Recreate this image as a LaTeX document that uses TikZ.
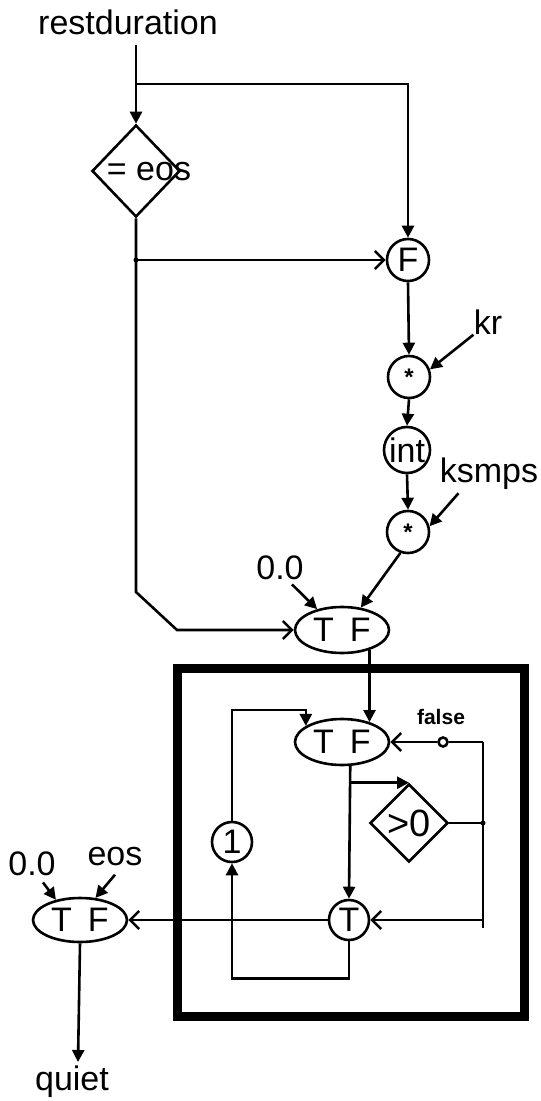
\documentclass[tikz,border=0pt]{standalone}
\usepackage{fontspec}
\setmainfont{Liberation Sans}
\usetikzlibrary{arrows.meta,calc,positioning,shapes.geometric}

\tikzset{
  wire/.style={line width=1.3pt},
  fin/.style={wire,-{Triangle[length=6pt,width=6pt]}},
  sin/.style={wire,-{Straight Barb[length=4.5pt,width=9pt]}},
  lbl/.style={font=\fontsize{17}{20}\selectfont,inner sep=0pt},
  op/.style={draw,circle,line width=1.3pt,inner sep=0pt,minimum size=21pt,font=\fontsize{17}{20}\selectfont},
  sel/.style={draw,ellipse,line width=1.3pt,inner sep=0pt,minimum width=47pt,minimum height=23pt,font=\fontsize{17}{20}\selectfont},
  test/.style={draw,diamond,line width=1.3pt,inner sep=0pt,font=\fontsize{19}{21}\selectfont},
}
\newcommand{\opstar}{\raisebox{-0.45em}{\bfseries\fontsize{12}{12}\selectfont *}}

\begin{document}
\begin{tikzpicture}[x=0.5pt,y=-0.5pt]
\useasboundingbox (0,0) rectangle (540,1101);
% top part
\node[lbl] (rd) at (128,22) {restduration};
\coordinate (rdout) at (136,45);
\coordinate (split) at (136,84);
\node[test,minimum width=44pt,minimum height=46pt] (eq) at (136,171) {};
\node[lbl] (eqtxt) at (149,172) {= eos};
\node[op] (fsel) at (408,260) {F};
\coordinate (j1) at (eq.south |- fsel);
\node[op] (mul1) at (409,377) {\opstar};
\node[lbl] (kr) at (488,322) {kr};
\node[op,minimum size=23pt] (int) at (407,450) {int};
\node[op] (mul2) at (408,532) {\opstar};
\node[lbl] (ksmps) at (489,474) {ksmps};
\node[sel] (tf1) at (342,630) {T\hspace{8pt}F};
\node[lbl] (zero1) at (280,568) {0.0};

\draw[fin] (rdout) -- (eq.north);
\draw[fin] (split) -| (fsel.north);
\draw[sin] (j1) -- (fsel.west);
\fill (j1) circle (2.5);
\draw[sin] (eq.south) -- (136,592) -- (177,630) -- (tf1.west);
\draw[fin] (fsel.south) -- (mul1.north);
\draw[fin] (kr.south west) -- (mul1.20);
\draw[fin] (mul1.south) -- (int.north);
\draw[fin] (int.south) -- (mul2.north);
\draw[fin] ($(ksmps.south west)+(19,3)$) -- (mul2.15);
\draw[fin] (mul2.250) -- (tf1.50);
\draw[fin] ($(zero1.south)+(12,4)$) -- (tf1.140);

% loop box
\draw[line width=4.5pt] (177,668) rectangle (524,1016);
\node[sel] (tf2) at (342,742) {T\hspace{8pt}F};
\node[op,minimum size=20pt] (one) at (232,842) {1};
\node[test,minimum size=39pt] (gt) at (409,823) {>0};
\node[op,minimum size=20pt] (tsel) at (349,920) {T};
\node[lbl,font=\bfseries\fontsize{10.5}{12}\selectfont] (fl) at (441,717) {false};
\node[draw,circle,line width=1.3pt,inner sep=0pt,minimum size=4.5pt] (fdot) at (443,742) {};
\coordinate (bus1) at (483,742);
\coordinate (bus2) at (483,823);
\coordinate (bus3) at (483,928);
\coordinate (b2) at (tf2.-71 |- gt.north);

\draw[fin] (tf1.-36) -- (tf2.36);
\draw[fin] (one.north) |- ($(tf2.156)+(0,-16)$) -- (tf2.156);
\draw[wire] (bus1) -- (fdot);
\draw[sin] (fdot) -- (tf2.east);
\draw[wire] (bus1) -- (bus3);
\draw[wire] (gt.east) -- (bus2);
\fill (bus2) circle (2.5);
\draw[fin] (tf2.-71) -- (tsel.north);
\draw[fin] (b2) -- (gt.north);
\draw[sin] (tsel -| bus1) -- (tsel.east);
\draw[fin] (tsel.south) -- ++(0,37) -| (one.south);

% final selector
\node[sel,minimum height=22pt] (tf3) at (80,920) {T\hspace{8pt}F};
\node[lbl] (zero2) at (32,864) {0.0};
\node[lbl] (eos) at (115,857) {eos};
\node[lbl,anchor=base] (quiet) at (72,1090) {quiet};
\coordinate (qin) at (78,1062);

\draw[sin] (tsel.west) -- (tf3.east);
\draw[fin] ($(zero2.south)+(11,6)$) -- (tf3.140);
\draw[fin] ($(eos.south)+(0,8)$) -- (tf3.55);
\draw[fin] (tf3.south) -- (qin);
\end{tikzpicture}
\end{document}
